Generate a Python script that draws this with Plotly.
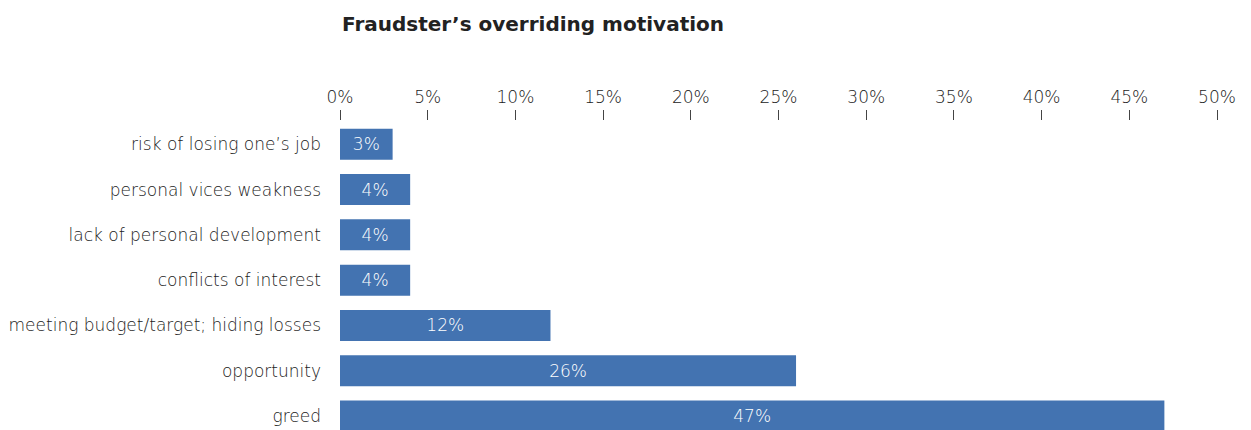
import plotly.graph_objects as go

# Share of cases by the fraudster's overriding motivation (%)
motivations = [
    "risk of losing one’s job",
    "personal vices weakness",
    "lack of personal development",
    "conflicts of interest",
    "meeting budget/target; hiding losses",
    "opportunity",
    "greed",
]
shares = [3, 4, 4, 4, 12, 26, 47]
tick_values = [0, 5, 10, 15, 20, 25, 30, 35, 40, 45, 50]
tick_labels = [f"{v}%" for v in tick_values]

BAR_COLOR = "#4373B1"
TEXT_COLOR = "#222222"
FONT = "'DejaVu Sans', 'Open Sans', Arial, sans-serif"

fig = go.Figure(
    go.Bar(
        x=shares,
        y=motivations,
        orientation="h",
        marker=dict(color=BAR_COLOR, line=dict(width=0)),
        text=[f"{v}%" for v in shares],
        textposition="inside",
        insidetextanchor="middle",
        textangle=0,
        constraintext="none",
        textfont=dict(color="#FFFFFF", size=17, family=FONT, weight=300),
        hoverinfo="skip",
    )
)

fig.update_layout(
    width=1251,
    height=430,
    paper_bgcolor="white",
    plot_bgcolor="white",
    margin=dict(l=340, r=34, t=121, b=0),
    bargap=0.316,
    showlegend=False,
    font=dict(family=FONT, color=TEXT_COLOR, size=17, weight=300),
    title=dict(
        text="<b>Fraudster’s overriding motivation</b>",
        x=342 / 1251,
        xanchor="left",
        y=1 - 24 / 430,
        yanchor="middle",
        font=dict(size=20, color="#222222", family=FONT),
    ),
    xaxis=dict(
        side="top",
        range=[0, 50],
        tickvals=tick_values,
        ticktext=tick_labels,
        ticks="outside",
        ticklen=10,
        tickwidth=1,
        tickcolor="#444444",
        showgrid=False,
        showline=False,
        zeroline=False,
        tickfont=dict(size=17, color=TEXT_COLOR, weight=300),
        fixedrange=True,
    ),
    yaxis=dict(
        range=[6.309, -0.514],
        showgrid=False,
        showline=False,
        zeroline=False,
        ticks="",
        ticklabelstandoff=18,
        tickfont=dict(size=17, color=TEXT_COLOR, weight=300),
        fixedrange=True,
    ),
)

fig.write_html("out.html")
